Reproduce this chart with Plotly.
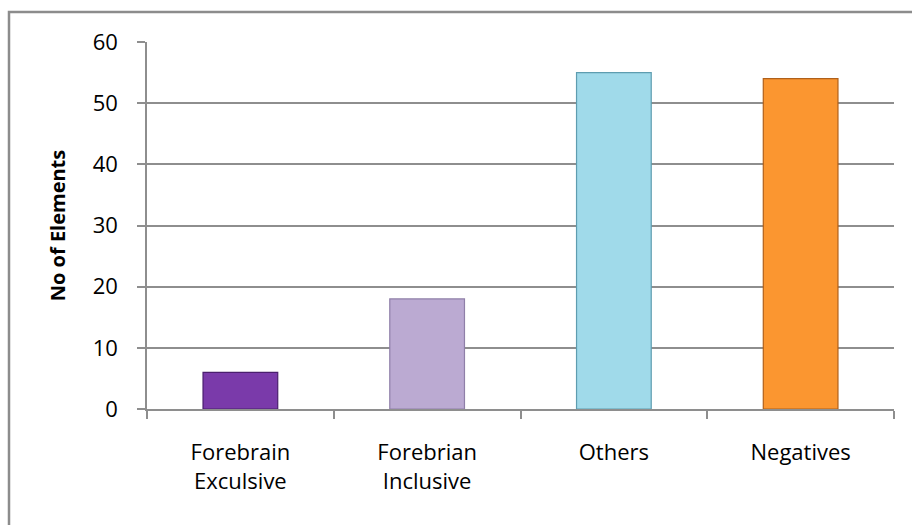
import plotly.graph_objects as go

categories = ["Forebrain<br>Exculsive", "Forebrian<br>Inclusive", "Others", "Negatives"]
values = [6, 18, 55, 54]
bar_colors = ["#7A3AAA", "#BBAAD2", "#A0DAEA", "#FB9630"]
edge_colors = ["#4A1E6E", "#8F7FA8", "#5E9DB0", "#B0601A"]
y_ticks = [0, 10, 20, 30, 40, 50, 60]

W, H = 912, 525
L, R, T, B = 147, 18, 42, 116
pw, ph = W - L - R, H - T - B

fig = go.Figure(
    go.Bar(
        x=categories,
        y=values,
        width=0.4,
        marker=dict(color=bar_colors, line=dict(color=edge_colors, width=1.2)),
    )
)

fig.update_layout(
    width=W,
    height=H,
    margin=dict(l=L, r=R, t=T, b=B),
    paper_bgcolor="white",
    plot_bgcolor="white",
    showlegend=False,
    font=dict(family="Open Sans", size=22, color="#000000"),
    bargap=0.6,
)

fig.update_yaxes(
    range=[0, 60],
    tickvals=y_ticks,
    showgrid=True,
    gridcolor="#8E8E8E",
    gridwidth=1.5,
    showline=True,
    linecolor="#8E8E8E",
    linewidth=1.5,
    ticks="outside",
    ticklen=8,
    tickcolor="#8E8E8E",
    tickwidth=1.5,
    ticklabelstandoff=15,
    zeroline=False,
    title=dict(text="<b>No of Elements</b>", font=dict(size=20), standoff=22),
)

fig.update_xaxes(
    showline=True,
    linecolor="#8E8E8E",
    linewidth=1.5,
    ticks="outside",
    tickson="boundaries",
    ticklen=8,
    tickcolor="#8E8E8E",
    tickwidth=1.5,
    ticklabelstandoff=23,
    showgrid=False,
)

# outer chart border (extends past the bottom/right edges like the reference)
fig.add_shape(
    type="rect",
    xref="paper",
    yref="paper",
    x0=(9 - L) / pw,
    x1=(W + 5 - L) / pw,
    y0=-(H + 5 - (T + ph)) / ph,
    y1=((T + ph) - 12) / ph,
    line=dict(color="#8C8C8C", width=2.5),
    fillcolor="rgba(0,0,0,0)",
    layer="below",
)

fig.write_html("out.html")
